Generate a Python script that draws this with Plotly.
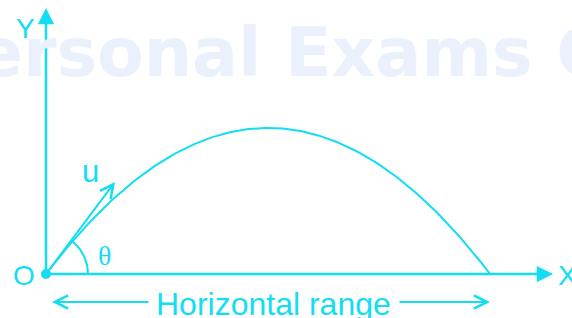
import numpy as np
import plotly.graph_objects as go

# Diagram values (diagram units, origin at launch point O)
R = 444            # horizontal range
H = 146            # maximum height
u_vec = (69, 92)   # initial velocity vector drawn
arc_r = 42         # radius of theta arc
x_axis_len = 507
y_axis_len = 266
range_y = -28
range_left = (104, 6)     # arrow from -> to
range_right = (352, 444)
labels = {"Y": (-21, 246), "X": (521, -1), "O": (-22, -1)}
range_text = "Horizontal range"
watermark = "Personal Exams Guide"

COL = "#12DDF4"
FONT = "Liberation Sans, Arial, sans-serif"

fig = go.Figure()

# watermark (paper coordinates so it may run past the edges)
fig.add_annotation(x=-0.131, y=0.835, xref="paper", yref="paper", xanchor="left", yanchor="middle",
                   text=watermark, showarrow=False,
                   font=dict(family="DejaVu Sans, sans-serif", size=68, color="#EAF1FC", weight="bold"))

# trajectory
xs = np.linspace(0, R, 200)
ys = 4 * H * xs * (R - xs) / R**2
fig.add_trace(go.Scatter(x=xs, y=ys, mode="lines", line=dict(color=COL, width=2), hoverinfo="skip"))

# theta arc
ang = np.arctan2(u_vec[1], u_vec[0])
t = np.linspace(0, ang, 40)
fig.add_trace(go.Scatter(x=arc_r*np.cos(t), y=arc_r*np.sin(t), mode="lines",
                         line=dict(color=COL, width=2), hoverinfo="skip"))

# axes lines
fig.add_trace(go.Scatter(x=[0, x_axis_len-8], y=[0, 0], mode="lines", line=dict(color=COL, width=2.5), hoverinfo="skip"))
fig.add_trace(go.Scatter(x=[0, 0], y=[0, y_axis_len-8], mode="lines", line=dict(color=COL, width=2.5), hoverinfo="skip"))
# origin dot
fig.add_trace(go.Scatter(x=[0], y=[0], mode="markers", marker=dict(color=COL, size=10), hoverinfo="skip"))

def arrow(x0, y0, x1, y1, head, size=1.0, width=2):
    fig.add_annotation(x=x1, y=y1, ax=x0, ay=y0, xref="x", yref="y", axref="x", ayref="y",
                       showarrow=True, arrowhead=head, arrowsize=size, arrowwidth=width,
                       arrowcolor=COL, text="")

arrow(x_axis_len-14, 0, x_axis_len, 0, 2, 1.3, 2.5)
arrow(0, y_axis_len-14, 0, y_axis_len, 2, 1.3, 2.5)
arrow(0, 0, u_vec[0], u_vec[1], 5, 1.3, 2)
arrow(range_left[0], range_y, range_left[1], range_y, 5, 1.3, 2)
arrow(range_right[0], range_y, range_right[1], range_y, 5, 1.3, 2)

for k, (x, y) in labels.items():
    fig.add_annotation(x=x, y=y, text=k, showarrow=False, font=dict(family=FONT, size=28, color=COL))
fig.add_annotation(x=44, y=103, text="u", showarrow=False, font=dict(family=FONT, size=31, color=COL))
fig.add_annotation(x=58, y=19, text="θ", showarrow=False, font=dict(family="Liberation Serif, serif", size=28, color=COL))
fig.add_annotation(x=227, y=range_y - 2, text=range_text, showarrow=False,
                   font=dict(family=FONT, size=32, color=COL))

fig.update_xaxes(range=[-46, 526], visible=False)
fig.update_yaxes(range=[-44, 274], visible=False)
fig.update_layout(width=572, height=318, margin=dict(l=0, r=0, t=0, b=0),
                  plot_bgcolor="white", paper_bgcolor="white", showlegend=False)
fig.write_html("out.html", config={"displayModeBar": False})

with open("out.html", encoding="utf-8") as f:
    html = f.read()
html = html.replace("<body>", '<body style="margin:0;overflow:hidden">', 1)
with open("out.html", "w", encoding="utf-8") as f:
    f.write(html)
